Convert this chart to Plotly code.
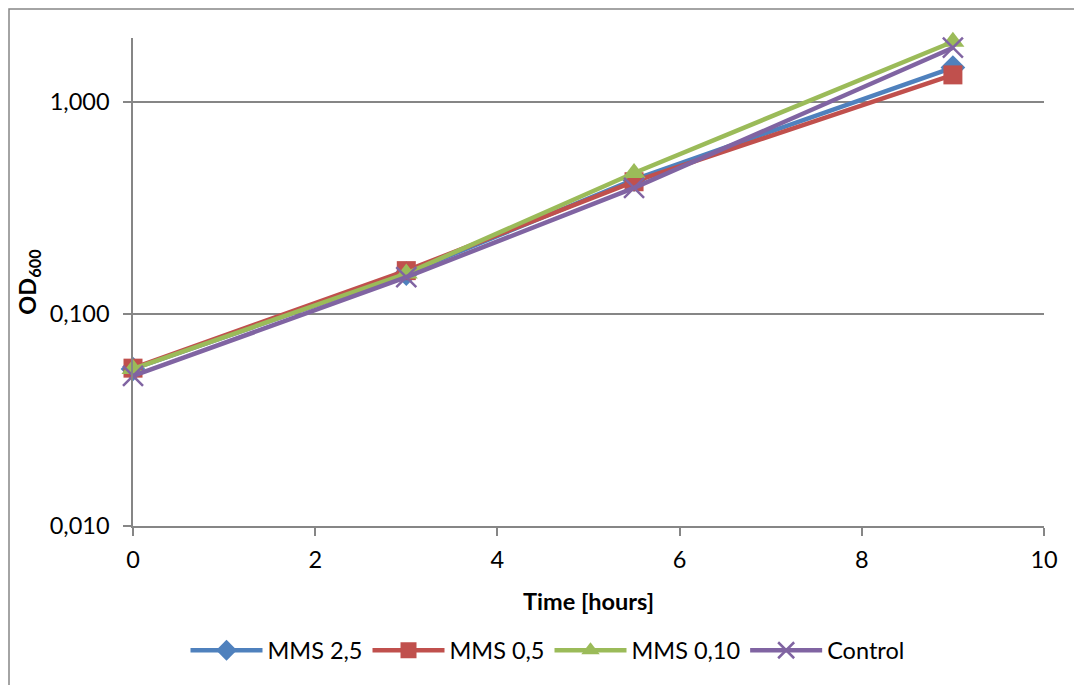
import plotly.graph_objects as go

# Sampling times (hours)
time_h = [0, 3, 5.5, 9]

# OD600 readings per treatment
mms_2_5 = [0.055, 0.155, 0.430, 1.45]
mms_0_5 = [0.0555, 0.160, 0.420, 1.34]
mms_0_10 = [0.055, 0.155, 0.462, 1.92]
control = [0.051, 0.149, 0.393, 1.80]

series_names = ["MMS 2,5", "MMS 0,5", "MMS 0,10", "Control"]
series_colors = ["#4F81BD", "#C0504D", "#9BBB59", "#8064A2"]
series_symbols = ["diamond", "square", "triangle-up", "x-thin"]
series_values = [mms_2_5, mms_0_5, mms_0_10, control]

y_ticks = [0.01, 0.1, 1.0]
y_tick_text = ["0,010", "0,100", "1,000"]
x_ticks = [0, 2, 4, 6, 8, 10]

FONT = "Lato"
FS = 23.5
GRID = "#868686"

fig = go.Figure()
for name, color, symbol, values in zip(series_names, series_colors, series_symbols, series_values):
    size = {"diamond": 19, "square": 19, "triangle-up": 20, "x-thin": 20}[symbol]
    marker = dict(symbol=symbol, size=size, color=color,
                  line=dict(color=color, width=2.5 if symbol == "x-thin" else 0))
    fig.add_trace(go.Scatter(
        x=time_h, y=values, name=name, mode="lines+markers",
        line=dict(color=color, width=4.5), marker=marker,
        cliponaxis=False,
    ))

W, H = 1074, 685
L, R, T, B = 133, 30, 38, 159
pw, ph = W - L - R, H - T - B

# Chart-area frame (left and top edges at 9 px)
fig.add_shape(type="rect", xref="paper", yref="paper",
              x0=(9 - L) / pw, x1=(W + 10 - L) / pw,
              y0=(H - B - (H + 10)) / ph, y1=(H - B - 9) / ph,
              line=dict(color="#868686", width=1.5), fillcolor="rgba(0,0,0,0)",
              layer="below")

fig.update_layout(
    width=W, height=H,
    margin=dict(l=L, r=R, t=T, b=B),
    paper_bgcolor="white", plot_bgcolor="white",
    font=dict(family=FONT, size=FS, color="black"),
    showlegend=True,
    legend=dict(orientation="h", x=0.455, xanchor="center", y=-0.21, yanchor="top",
                font=dict(family=FONT, size=FS), itemwidth=72,
                tracegroupgap=0, traceorder="normal"),
    xaxis=dict(
        range=[0, 10], tickvals=x_ticks, showgrid=False, zeroline=False,
        showline=True, linecolor=GRID, linewidth=1.5,
        ticks="outside", ticklen=8, tickcolor=GRID, tickwidth=1.5,
        ticklabelstandoff=4,
        tickfont=dict(family=FONT, size=FS),
        title=dict(text="<b>Time [hours]</b>", font=dict(family=FONT, size=FS), standoff=22),
    ),
    yaxis=dict(
        type="log", range=[-2, 0.301], tickvals=y_ticks, ticktext=y_tick_text,
        showgrid=True, gridcolor=GRID, gridwidth=1.5, zeroline=False,
        showline=True, linecolor=GRID, linewidth=1.5,
        ticks="outside", ticklen=8, tickcolor=GRID, tickwidth=1.5,
        ticklabelstandoff=9,
        tickfont=dict(family=FONT, size=FS),
        title=dict(text="<b>OD<sub>600</sub></b>", font=dict(family=FONT, size=FS), standoff=6),
    ),
)

fig.write_html("out.html")
